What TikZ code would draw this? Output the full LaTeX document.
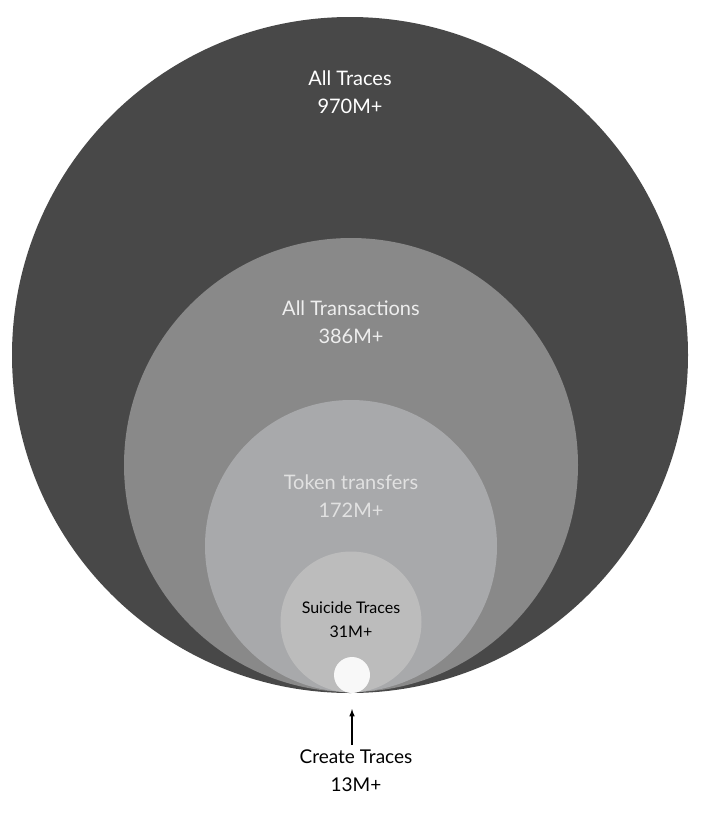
\documentclass[tikz,border=0pt]{standalone}
\usepackage{fontspec}
\setmainfont{Lato}
\begin{document}
\begin{tikzpicture}[x=1pt,y=-1pt,
  lbl/.style={align=center,font=\fontsize{20}{28}\selectfont},
  ring/.style={circle,draw=none,inner sep=0pt}]
\useasboundingbox (0,0) rectangle (702,822);
\node[ring,fill={rgb,255:red,72;green,72;blue,72},minimum size=676pt] (c1) at (350,355) {};
\node[ring,fill={rgb,255:red,137;green,137;blue,137},minimum size=454pt] (c2) at (351,465) {};
\node[ring,fill={rgb,255:red,168;green,169;blue,171},minimum size=292pt] (c3) at (351,546) {};
\node[ring,fill={rgb,255:red,188;green,188;blue,188},minimum size=141pt] (c4) at (351,622) {};
\node[ring,fill={rgb,255:red,248;green,248;blue,248},minimum size=36pt] (c5) at (352,675) {};
\node[lbl,text=white] (t1) at (350,92) {All Traces\\970M+};
\node[lbl,text={rgb,255:red,238;green,238;blue,238}] (t2) at (351,322) {All Transactions\\386M+};
\node[lbl,text={rgb,255:red,225;green,225;blue,225}] (t3) at (351,496) {Token transfers\\172M+};
\node[lbl,text=black,font=\fontsize{16}{24}\selectfont] (t4) at (351,620) {Suicide Traces\\31M+};
\node[lbl,text=black,font=\fontsize{19}{28}\selectfont] (t5) at (356,771) {Create Traces\\13M+};
\coordinate (a0) at (352,745);
\coordinate (a1) at (352,709);
\draw[line width=1.5pt,-latex] (a0) -- (a1);
\end{tikzpicture}
\end{document}
